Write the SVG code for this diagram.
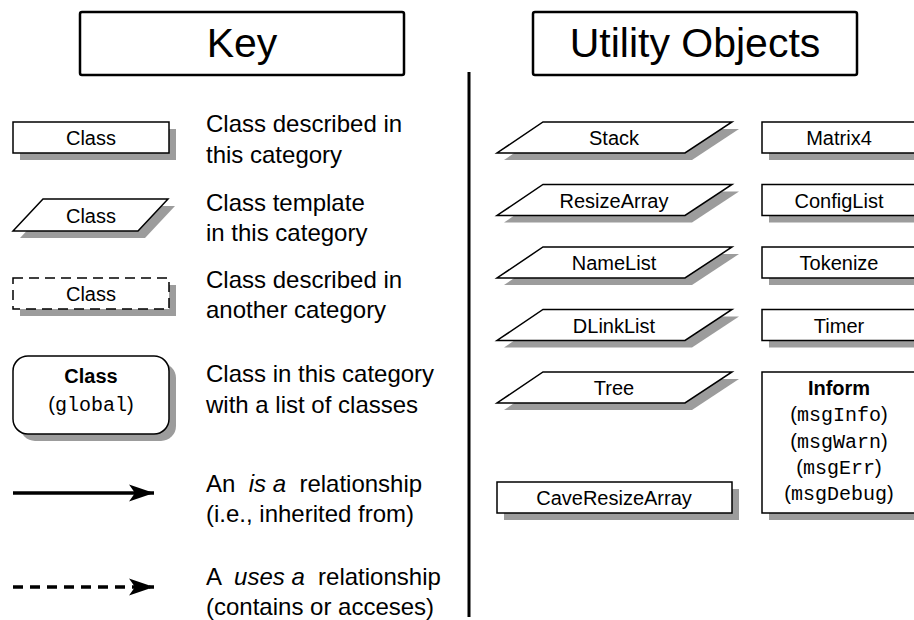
<svg xmlns="http://www.w3.org/2000/svg" width="914" height="620" viewBox="0 0 914 620">
<defs>
<style>
.bg{fill:#ffffff}
.title{fill:#fff;stroke:#000;stroke-width:2.5}
.ttl{font-family:"Liberation Sans",Arial,sans-serif;font-size:41px;fill:#000;text-anchor:middle}
.desc{font-family:"Liberation Sans",Arial,sans-serif;font-size:24px;fill:#000}
.lbl{font-family:"Liberation Sans",Arial,sans-serif;font-size:20px;fill:#000;text-anchor:middle}
.bold{font-weight:bold}
.mono{font-family:"Liberation Mono","Courier New",monospace}
.shadow{fill:#9c9c9c;stroke:none}
.box{fill:#fff;stroke:#000;stroke-width:1.5}
.dash{stroke-dasharray:10 6}
.arrow{stroke:#000;stroke-width:3.5;fill:none}
</style>
<marker id="head" markerUnits="userSpaceOnUse" markerWidth="28" markerHeight="22" viewBox="0 -11 28 22" refX="25" refY="0" orient="auto">
<path d="M0,-8.5 L25,0 L0,8.5 L6,0 Z" fill="#000"/>
</marker>
</defs>
<rect class="bg" x="0" y="0" width="914" height="620"/>

<g id="key-title">
<rect class="title" x="80" y="12" width="324" height="63" rx="2"/>
<text class="ttl" x="242" y="57">Key</text>
</g>
<g id="utility-title">
<rect class="title" x="533" y="12" width="324" height="63" rx="2"/>
<text class="ttl" x="695" y="57">Utility Objects</text>
</g>
<line x1="469" y1="72" x2="469" y2="617" stroke="#000" stroke-width="3"/>

<!-- Key entries -->
<g id="key-class">
<rect class="shadow" x="20" y="129" width="156" height="31"/>
<rect class="box" x="13" y="122" width="156" height="31"/>
<text class="lbl" x="91" y="145">Class</text>
</g>
<g id="key-template">
<polygon class="shadow" points="50,206 175,206 145,238 20,238"/>
<polygon class="box" points="43,199 168,199 138,231 13,231"/>
<text class="lbl" x="91" y="223">Class</text>
</g>
<g id="key-other">
<rect class="shadow" x="20" y="285" width="156" height="31"/>
<rect class="box dash" x="13" y="278" width="156" height="31"/>
<text class="lbl" x="91" y="301">Class</text>
</g>
<g id="key-list">
<rect class="shadow" x="20" y="363" width="156" height="78" rx="15"/>
<rect class="box" x="13" y="356" width="156" height="78" rx="15"/>
<text class="lbl bold" x="91" y="383">Class</text>
<text class="lbl" x="91" y="411">(<tspan class="mono">global</tspan>)</text>
</g>

<g id="key-desc">
<text class="desc" x="206" y="132">Class described in</text>
<text class="desc" x="206" y="163">this category</text>
<text class="desc" x="206" y="211">Class template</text>
<text class="desc" x="206" y="241">in this category</text>
<text class="desc" x="206" y="288">Class described in</text>
<text class="desc" x="206" y="318">another category</text>
<text class="desc" x="206" y="382">Class in this category</text>
<text class="desc" x="206" y="413">with a list of classes</text>
<text class="desc" x="206" y="492" xml:space="preserve">An  <tspan font-style="italic">is a</tspan>  relationship</text>
<text class="desc" x="206" y="522">(i.e., inherited from)</text>
<text class="desc" x="206" y="585" xml:space="preserve">A  <tspan font-style="italic">uses a</tspan>  relationship</text>
<text class="desc" x="206" y="615">(contains or acceses)</text>
</g>

<g id="connectors">
<line class="arrow" x1="13" y1="493" x2="154" y2="493" marker-end="url(#head)"/>
<line class="arrow" x1="13" y1="587" x2="154" y2="587" stroke-dasharray="10 7" marker-end="url(#head)"/>
</g>

<!-- Utility objects: templates -->
<g id="Stack">
<polygon class="shadow" points="550,129 739,129 692,160 504,160"/>
<polygon class="box" points="543,122 732,122 685,153 497,153"/>
<text class="lbl" x="614" y="145">Stack</text>
</g>
<g id="ResizeArray">
<polygon class="shadow" points="550,191.5 739,191.5 692,222.5 504,222.5"/>
<polygon class="box" points="543,184.5 732,184.5 685,215.5 497,215.5"/>
<text class="lbl" x="614" y="207.5">ResizeArray</text>
</g>
<g id="NameList">
<polygon class="shadow" points="550,254 739,254 692,285 504,285"/>
<polygon class="box" points="543,247 732,247 685,278 497,278"/>
<text class="lbl" x="614" y="270">NameList</text>
</g>
<g id="DLinkList">
<polygon class="shadow" points="550,316.5 739,316.5 692,347.5 504,347.5"/>
<polygon class="box" points="543,309.5 732,309.5 685,340.5 497,340.5"/>
<text class="lbl" x="614" y="332.5">DLinkList</text>
</g>
<g id="Tree">
<polygon class="shadow" points="550,379 739,379 692,410 504,410"/>
<polygon class="box" points="543,372 732,372 685,403 497,403"/>
<text class="lbl" x="614" y="395">Tree</text>
</g>
<g id="CaveResizeArray">
<rect class="shadow" x="504" y="489" width="235" height="31"/>
<rect class="box" x="497" y="482" width="235" height="31"/>
<text class="lbl" x="614" y="505">CaveResizeArray</text>
</g>

<!-- Utility objects: classes -->
<g id="Matrix4">
<rect class="shadow" x="769" y="129" width="154" height="31"/>
<rect class="box" x="762" y="122" width="154" height="31"/>
<text class="lbl" x="839" y="145">Matrix4</text>
</g>
<g id="ConfigList">
<rect class="shadow" x="769" y="191.5" width="154" height="31"/>
<rect class="box" x="762" y="184.5" width="154" height="31"/>
<text class="lbl" x="839" y="207.5">ConfigList</text>
</g>
<g id="Tokenize">
<rect class="shadow" x="769" y="254" width="154" height="31"/>
<rect class="box" x="762" y="247" width="154" height="31"/>
<text class="lbl" x="839" y="270">Tokenize</text>
</g>
<g id="Timer">
<rect class="shadow" x="769" y="316.5" width="154" height="31"/>
<rect class="box" x="762" y="309.5" width="154" height="31"/>
<text class="lbl" x="839" y="332.5">Timer</text>
</g>
<g id="Inform">
<rect class="shadow" x="769" y="379" width="154" height="141"/>
<rect class="box" x="762" y="372" width="154" height="141"/>
<text class="lbl bold" x="839" y="395">Inform</text>
<text class="lbl" x="839" y="421">(<tspan class="mono">msgInfo</tspan>)</text>
<text class="lbl" x="839" y="448">(<tspan class="mono">msgWarn</tspan>)</text>
<text class="lbl" x="839" y="474">(<tspan class="mono">msgErr</tspan>)</text>
<text class="lbl" x="839" y="500">(<tspan class="mono">msgDebug</tspan>)</text>
</g>
</svg>
